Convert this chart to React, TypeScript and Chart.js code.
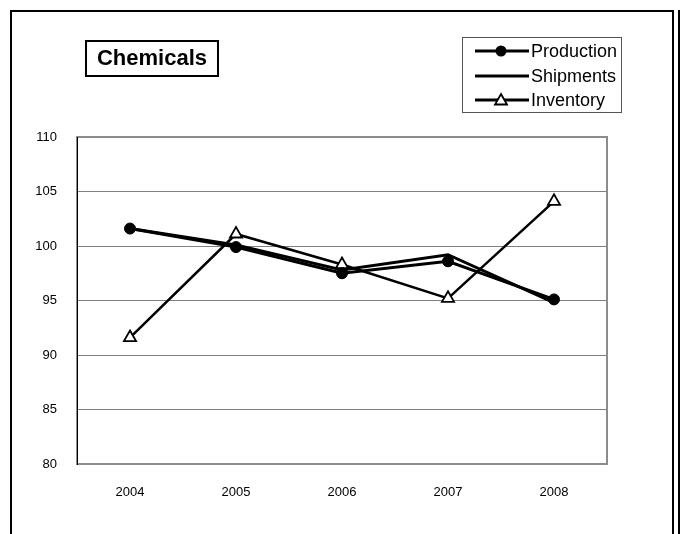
import React, { useEffect, useRef } from "react";
import { Chart, registerables } from "chart.js";

Chart.register(...registerables);

const categories = ["2004", "2005", "2006", "2007", "2008"];
const production = [101.6, 99.9, 97.5, 98.6, 95.1];
const shipments = [101.6, 100.1, 97.8, 99.2, 94.8];
const inventory = [91.6, 101.1, 98.3, 95.2, 104.1];
const yTicks = [80, 85, 90, 95, 100, 105, 110];
const chartTitle = "Chemicals";
const seriesNames = ["Production", "Shipments", "Inventory"];

const FONT = "'Liberation Sans', Arial, sans-serif";

const decorPlugin = {
  id: "decor",
  beforeDraw(chart: any) {
    const ctx = chart.ctx;
    ctx.save();
    ctx.fillStyle = "#ffffff";
    ctx.fillRect(0, 0, chart.width, chart.height);
    // outer frame
    ctx.strokeStyle = "#000000";
    ctx.lineWidth = 2;
    ctx.beginPath();
    ctx.moveTo(11, 600);
    ctx.lineTo(11, 11);
    ctx.lineTo(673, 11);
    ctx.lineTo(673, 600);
    ctx.stroke();
    ctx.beginPath();
    ctx.moveTo(679, 10);
    ctx.lineTo(679, 600);
    ctx.stroke();
    ctx.restore();
  },
  beforeDatasetsDraw(chart: any) {
    const ctx = chart.ctx;
    const a = chart.chartArea;
    ctx.save();
    ctx.strokeStyle = "#8c8c8c";
    ctx.lineWidth = 2;
    ctx.strokeRect(a.left, a.top, a.right - a.left, a.bottom - a.top);
    ctx.strokeStyle = "#000000";
    ctx.lineWidth = 1;
    ctx.beginPath();
    ctx.moveTo(a.left + 0.5, a.top);
    ctx.lineTo(a.left + 0.5, a.bottom + 1);
    ctx.stroke();
    ctx.restore();
  },
  afterDraw(chart: any) {
    const ctx = chart.ctx;
    ctx.save();
    // title box
    ctx.strokeStyle = "#000000";
    ctx.lineWidth = 2;
    ctx.strokeRect(86, 41, 132, 35);
    ctx.fillStyle = "#000000";
    ctx.font = `bold 22px ${FONT}`;
    ctx.textAlign = "center";
    ctx.textBaseline = "middle";
    ctx.fillText(chartTitle, 152, 59);
    // legend box
    ctx.strokeStyle = "#555555";
    ctx.lineWidth = 1;
    ctx.strokeRect(462.5, 37.5, 159, 75);
    const rows = [51, 76, 100];
    ctx.font = `18px ${FONT}`;
    ctx.textAlign = "left";
    rows.forEach((y, i) => {
      ctx.strokeStyle = "#000000";
      ctx.lineWidth = 3;
      ctx.beginPath();
      ctx.moveTo(475, y);
      ctx.lineTo(529, y);
      ctx.stroke();
      if (i === 0) {
        ctx.fillStyle = "#000000";
        ctx.beginPath();
        ctx.arc(501, y, 5.5, 0, Math.PI * 2);
        ctx.fill();
      } else if (i === 2) {
        ctx.fillStyle = "#ffffff";
        ctx.lineWidth = 1.8;
        ctx.beginPath();
        ctx.moveTo(501, y - 6);
        ctx.lineTo(507, y + 4.5);
        ctx.lineTo(495, y + 4.5);
        ctx.closePath();
        ctx.fill();
        ctx.stroke();
      }
      ctx.fillStyle = "#000000";
      ctx.fillText(seriesNames[i], 531, y + 1);
    });
    ctx.restore();
  },
};

export default function App() {
  const ref = useRef<HTMLCanvasElement | null>(null);
  useEffect(() => {
    if (!ref.current) return;
    const chart = new Chart(ref.current, {
      type: "line",
      data: {
        labels: categories,
        datasets: [
          {
            label: seriesNames[0],
            data: production,
            borderColor: "#000000",
            backgroundColor: "#000000",
            borderWidth: 3,
            pointStyle: "circle",
            pointRadius: 5.5,
            pointBackgroundColor: "#000000",
            pointBorderColor: "#000000",
            pointBorderWidth: 1,
            tension: 0,
          },
          {
            label: seriesNames[1],
            data: shipments,
            borderColor: "#000000",
            borderWidth: 3,
            pointRadius: 0,
            tension: 0,
          },
          {
            label: seriesNames[2],
            data: inventory,
            borderColor: "#000000",
            borderWidth: 2.5,
            pointStyle: "triangle",
            pointRadius: 7,
            pointBackgroundColor: "#ffffff",
            pointBorderColor: "#000000",
            pointBorderWidth: 1.8,
            tension: 0,
          },
        ],
      },
      options: {
        responsive: false,
        animation: false,
        events: [],
        layout: { padding: { top: 137, right: 76, bottom: 0, left: 0 } },
        plugins: {
          legend: { display: false },
          title: { display: false },
          tooltip: { enabled: false },
        },
        scales: {
          x: {
            type: "category",
            offset: true,
            grid: { display: false },
            border: { display: false },
            ticks: {
              color: "#000000",
              font: { family: FONT, size: 13 },
              padding: 13,
              maxRotation: 0,
            },
            afterFit: (s: any) => {
              s.height = 70;
            },
          },
          y: {
            min: 80,
            max: 110,
            grid: { color: "#808080", lineWidth: 1, drawTicks: false },
            border: { display: false },
            ticks: {
              color: "#000000",
              font: { family: FONT, size: 13 },
              padding: 20,
            },
            afterBuildTicks: (s: any) => {
              s.ticks = yTicks.map((v) => ({ value: v }));
            },
            afterFit: (s: any) => {
              s.width = 77;
            },
          },
        },
      },
      plugins: [decorPlugin],
    } as any);
    return () => chart.destroy();
  }, []);
  return (
    <div style={{ position: "absolute", left: 0, top: 0, width: 683, height: 534 }}>
      <canvas ref={ref} width={683} height={534} style={{ width: 683, height: 534, display: "block" }} />
    </div>
  );
}
